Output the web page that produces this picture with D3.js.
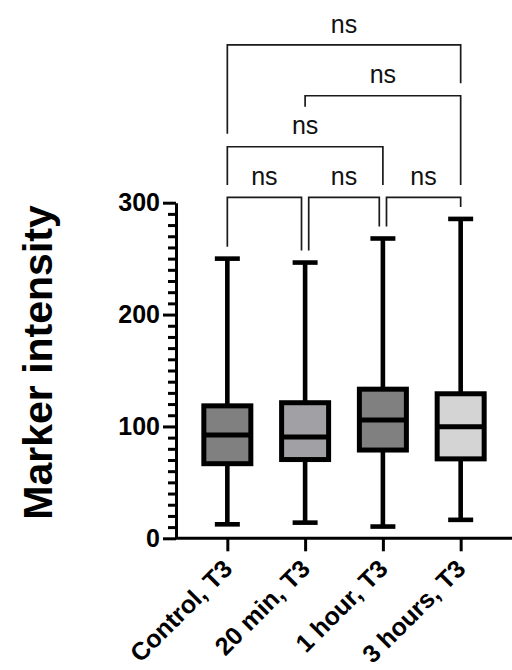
<!DOCTYPE html>
<html><head><meta charset="utf-8">
<script src="https://cdn.jsdelivr.net/npm/d3@7"></script>
<style>html,body{margin:0;padding:0;background:#fff;}svg{display:block;}</style>
</head><body>
<svg id="chart" width="512" height="670"></svg>
<script>
// ---- data ----
const categories = ["Control, T3", "20 min, T3", "1 hour, T3", "3 hours, T3"];
const whiskerMin = [12.5, 14, 10.5, 16.5];
const q1 = [66.7, 70.4, 78.9, 71];
const median = [92.3, 90.5, 105.7, 99.8];
const q3 = [118.4, 121.2, 133.3, 129.2];
const whiskerMax = [250, 246.5, 268, 285.5];
const fills = ["#808080", "#a1a0a4", "#808080", "#d4d4d4"];
const yMajorTicks = [0, 100, 200, 300];
const yMinorTicks = d3.range(0, 301, 10);
const yTitle = "Marker intensity";
// significance brackets: groups a,b, bracket level (data units), leg ends (data units, null = auto above whisker)
const brackets = [
  {a: 0, b: 1, level: 304.8, legA: null, legB: null, label: "ns"},
  {a: 1, b: 2, level: 304.8, legA: null, legB: null, label: "ns"},
  {a: 2, b: 3, level: 304.8, legA: null, legB: null, label: "ns"},
  {a: 0, b: 2, level: 350, legA: 315.8, legB: 315.8, label: "ns"},
  {a: 1, b: 3, level: 395.6, legA: 385.8, legB: 315.8, label: "ns"},
  {a: 0, b: 3, level: 441, legA: 361.7, legB: 406.7, label: "ns"}
];

// ---- layout ----
const svg = d3.select("#chart");
const font = "'Liberation Sans', Arial, Helvetica, sans-serif";
const x = d3.scalePoint().domain(categories).range([176, 512]).padding(0.66);
const y = d3.scaleLinear().domain([0, 300]).range([538.3, 202.7]);
const boxW = 47, capW = 25, thick = 4.6;

// y axis minor ticks
const gy = svg.append("g").attr("transform", "translate(176,0)");
gy.append("g").call(d3.axisLeft(y).tickValues(yMinorTicks.filter(v => v % 100 !== 0)).tickSize(8).tickFormat(""))
  .call(g => { g.select(".domain").remove(); g.selectAll("line").attr("stroke", "#000").attr("stroke-width", 3); });
gy.append("g").call(d3.axisLeft(y).tickValues(yMajorTicks).tickSize(13).tickSizeOuter(0).tickPadding(3))
  .call(g => {
    g.select(".domain").attr("stroke", "#000").attr("stroke-width", 3);
    g.selectAll(".tick line").attr("stroke", "#000").attr("stroke-width", 3);
    g.selectAll(".tick text").attr("font-family", font).attr("font-size", 25).attr("font-weight", "bold").attr("fill", "#000");
  });

// x axis
const gx = svg.append("g").attr("transform", "translate(0," + y(0) + ")");
gx.append("line").attr("x1", 176).attr("x2", 512).attr("y1", 0).attr("y2", 0).attr("stroke", "#000").attr("stroke-width", 3);
gx.call(d3.axisBottom(x).tickSize(13).tickSizeOuter(0))
  .call(g => {
    g.select(".domain").remove();
    g.selectAll(".tick line").attr("stroke", "#000").attr("stroke-width", 3);
    g.selectAll(".tick text")
      .attr("font-family", font).attr("font-size", 25).attr("font-weight", "bold").attr("fill", "#000")
      .attr("text-anchor", "end").attr("dy", 0).attr("y", 0)
      .attr("transform", "translate(6,32) rotate(-45)");
  });

// boxes
const boxes = svg.append("g");
categories.forEach((c, i) => {
  const cx = x(c);
  const g = boxes.append("g");
  g.append("line").attr("x1", cx).attr("x2", cx).attr("y1", y(whiskerMax[i])).attr("y2", y(q3[i])).attr("stroke", "#000").attr("stroke-width", thick);
  g.append("line").attr("x1", cx).attr("x2", cx).attr("y1", y(q1[i])).attr("y2", y(whiskerMin[i])).attr("stroke", "#000").attr("stroke-width", thick);
  g.append("line").attr("x1", cx - capW / 2).attr("x2", cx + capW / 2).attr("y1", y(whiskerMax[i])).attr("y2", y(whiskerMax[i])).attr("stroke", "#000").attr("stroke-width", thick);
  g.append("line").attr("x1", cx - capW / 2).attr("x2", cx + capW / 2).attr("y1", y(whiskerMin[i])).attr("y2", y(whiskerMin[i])).attr("stroke", "#000").attr("stroke-width", thick);
  g.append("rect").attr("x", cx - boxW / 2).attr("width", boxW).attr("y", y(q3[i])).attr("height", y(q1[i]) - y(q3[i]))
    .attr("fill", fills[i]).attr("stroke", "#000").attr("stroke-width", 5);
  g.append("line").attr("x1", cx - boxW / 2).attr("x2", cx + boxW / 2).attr("y1", y(median[i])).attr("y2", y(median[i])).attr("stroke", "#000").attr("stroke-width", 5);
});

// brackets
const bg = svg.append("g");
const bottomLevel = d3.min(brackets, d => d.level);
brackets.forEach(br => {
  let xa = x(categories[br.a]), xb = x(categories[br.b]);
  if (br.level === bottomLevel) {
    if (brackets.some(o => o !== br && o.level === bottomLevel && o.b === br.a)) xa += 3.6;
    if (brackets.some(o => o !== br && o.level === bottomLevel && o.a === br.b)) xb -= 3.6;
  }
  const yl = y(br.level);
  const ya = br.legA == null ? y(whiskerMax[br.a]) - 12 : y(br.legA);
  const yb = br.legB == null ? y(whiskerMax[br.b]) - 12 : y(br.legB);
  bg.append("path").attr("d", `M${xa},${ya}V${yl}H${xb}V${yb}`)
    .attr("fill", "none").attr("stroke", "#1a1a1a").attr("stroke-width", 1.7);
  bg.append("text").attr("x", (xa + xb) / 2).attr("y", yl - 12.3).attr("text-anchor", "middle")
    .attr("font-family", font).attr("font-size", 25).attr("fill", "#111").text(br.label);
});

// y title
svg.append("text").attr("transform", "translate(52," + 362.5 + ") rotate(-90)")
  .attr("text-anchor", "middle").attr("font-family", font).attr("font-size", 41).attr("font-weight", "bold")
  .attr("fill", "#000").text(yTitle);
</script>
</body></html>
